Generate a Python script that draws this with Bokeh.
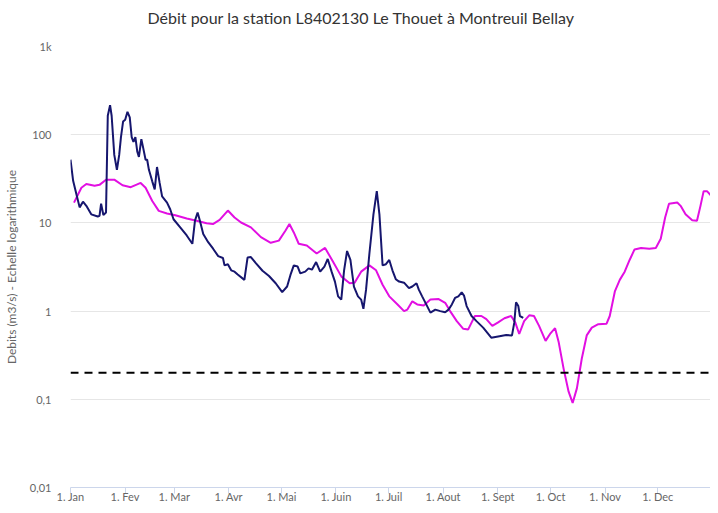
from bokeh.plotting import figure
from bokeh.models import FixedTicker, CustomJSTickFormatter, Span
from bokeh.embed import file_html
from bokeh.resources import INLINE

# ---------------- data ----------------
title_text = "Débit pour la station L8402130 Le Thouet à Montreuil Bellay"
y_title = "Debits (m3/s) - Echelle logarithmique"

month_starts = [0, 31, 59, 90, 120, 151, 181, 212, 243, 273, 304, 334]
month_labels = ["1. Jan", "1. Fev", "1. Mar", "1. Avr", "1. Mai", "1. Juin",
                "1. Juil", "1. Aout", "1. Sept", "1. Oct", "1. Nov", "1. Dec"]

y_tick_values = [0.01, 0.1, 1, 10, 100, 1000]
y_tick_labels = ["0,01", "0,1", "1", "10", "100", "1k"]

threshold = 0.2

# observed flow (dark blue) : day of year, m3/s
obs_day = [0.0, 1.5, 3.4, 5.2, 7.1, 9.0, 11.8, 15.5, 16.5, 17.4, 18.7, 20.2, 21.2, 22.5,
           23.4, 24.9, 26.4, 27.7, 28.7, 29.9, 31.1, 32.4, 33.7, 34.8, 35.8, 36.9, 38.0,
           38.9, 40.3, 41.4, 42.7, 43.6, 44.6, 46.5, 47.9, 49.2, 50.7, 52.1, 54.9, 56.7,
           58.6, 62.4, 66.1, 69.3, 70.8, 72.3, 73.6, 75.5, 78.3, 81.1, 84.0, 86.7, 87.6,
           89.5, 91.4, 93.3, 95.1, 98.9, 100.7, 102.6, 105.4, 109.2, 112.9, 116.7, 120.4,
           123.2, 125.1, 127.0, 129.2, 130.7, 133.5, 135.4, 137.3, 139.7, 142.0, 144.4,
           146.3, 148.5, 150.4, 152.2, 154.0, 155.6, 157.3, 159.2, 161.2, 163.5, 165.3,
           166.6, 168.1, 170.0, 172.3, 174.2, 175.7, 177.5, 179.4, 181.3, 183.1, 185.0,
           186.9, 189.7, 192.5, 194.4, 196.8, 198.1, 200.0, 201.9, 204.7, 207.5, 210.3,
           213.1, 215.0, 216.9, 218.7, 220.6, 222.5, 223.8, 225.3, 228.1, 230.9, 234.7,
           239.3, 244.0, 247.8, 251.1, 252.4, 253.4, 254.7, 255.6, 257.5]
obs_val = [52, 30, 21, 15, 17.4, 15.6, 12.5, 11.8, 12, 16.5, 12.3, 13.1, 164, 216,
           164, 59, 40, 59, 94, 141, 148, 182, 157, 94, 83, 94, 64,
           56, 89, 70, 52, 52, 40, 29.6, 24, 43, 28.4, 20, 17, 14.3,
           11, 8.9, 7.2, 5.8, 10.6, 13.1, 10.6, 7.5, 6.05, 5.1, 4.2, 4.0, 3.3,
           3.4, 2.9, 2.8, 2.6, 2.26, 4.05, 4.1, 3.5, 2.87, 2.5, 2.07, 1.64,
           1.9, 2.57, 3.3, 3.2, 2.68, 2.8, 3.05, 2.95, 3.6, 2.8, 3.2,
           3.9, 2.8, 2.16, 1.47, 1.35, 2.9, 4.8, 3.8, 1.9, 1.47, 1.35,
           1.06, 1.75, 4.5, 12.5, 22.9, 12.5, 3.3, 3.4, 3.8, 2.9, 2.3,
           2.16, 2.1, 1.82, 1.9, 2.07, 1.75, 1.47, 1.24, 0.96, 1.04, 1.0,
           0.97, 1.04, 1.19, 1.41, 1.47, 1.63, 1.5, 1.14, 0.88, 0.77, 0.65,
           0.50, 0.52, 0.535, 0.53, 0.74, 1.26, 1.14, 0.88, 0.84]

# reference flow (magenta) : day of year, m3/s
ref_day = [2.0, 6.2, 9.0, 13.7, 16.5, 20.2, 24.9, 29.6, 34.3, 39.9, 42.7, 46.5, 50.2,
           54.9, 59.6, 66.1, 71.7, 77.4, 81.0, 84.8, 89.5, 93.3, 97.0, 102.6, 108.3,
           113.9, 118.5, 122.3, 124.5, 127.0, 129.8, 134.4, 140.0, 144.8, 149.4, 154.1,
           158.8, 161.6, 165.3, 170.0, 173.8, 177.5, 181.3, 186.0, 189.7, 191.6, 194.4,
           197.2, 200.9, 204.7, 209.4, 213.1, 215.9, 219.7, 223.4, 226.2, 228.1, 230.0,
           233.7, 236.5, 239.9, 243.0, 246.8, 250.6, 253.0, 255.2, 258.0, 260.9, 263.6,
           266.5, 270.2, 273.0, 275.6, 277.6, 280.5, 283.3, 285.6, 288.0, 290.8, 293.6,
           296.5, 300.2, 304.9, 306.7, 309.6, 312.4, 315.2, 318.0, 320.8, 324.5, 329.2,
           332.9, 335.7, 338.2, 340.4, 345.1, 347.0, 349.8, 353.6, 356.3, 358.3, 360.1,
           362.0, 364.6]
ref_val = [17, 25, 27.6, 26.4, 27, 30.9, 30.9, 26.7, 25.4, 28.4, 25, 17.7, 13.7,
           12.8, 12.2, 11.2, 10.6, 9.9, 9.7, 10.8, 13.8, 11.5, 10.1, 8.9, 6.9,
           5.95, 6.3, 8.2, 9.7, 7.8, 5.8, 5.55, 4.5, 5.2, 3.6, 2.46,
           2.07, 2.1, 2.8, 3.3, 2.9, 1.99, 1.47, 1.19, 1.0, 1.04, 1.29,
           1.19, 1.16, 1.35, 1.37, 1.24, 1.0, 0.77, 0.63, 0.62, 0.74, 0.88,
           0.88, 0.81, 0.68, 0.74, 0.83, 0.88, 0.74, 0.55, 0.77, 0.895, 0.88,
           0.68, 0.46, 0.56, 0.64, 0.45, 0.22, 0.122, 0.091, 0.133, 0.29, 0.53,
           0.65, 0.71, 0.72, 0.88, 1.67, 2.26, 2.8, 3.8, 5.0, 5.2, 5.1,
           5.2, 6.6, 11.5, 16.5, 17, 15.6, 12.5, 10.7, 10.6, 15.6, 22.9,
           22.9, 20.1]

# ---------------- figure ----------------
FONT = "Lato"

p = figure(width=710, height=505, y_axis_type="log",
           x_range=(0, 364), y_range=(0.01, 1000),
           output_backend="svg", toolbar_location=None, title=title_text)
p.min_border_left = 61
p.min_border_right = 0
p.min_border_top = 46
p.min_border_bottom = 0
p.outline_line_color = None
p.background_fill_color = "white"
p.border_fill_color = "white"

p.title.align = "left"
p.title.offset = 77
p.title.padding = (0, 0, 0, 15)
p.title.text_font = FONT
p.title.text_font_size = "16px"
p.title.text_font_style = "normal"
p.title.text_color = "#333333"

# x axis
p.xaxis.ticker = FixedTicker(ticks=month_starts)
p.xaxis.major_label_overrides = {d: l for d, l in zip(month_starts, month_labels)}
p.xaxis.axis_line_color = "#ccd6eb"
p.xaxis.major_tick_line_color = "#ccd6eb"
p.xaxis.major_tick_in = 0
p.xaxis.major_tick_out = 6
p.xaxis.minor_tick_line_color = None
p.xaxis.major_label_standoff = -4
p.xaxis.axis_label_standoff = 0
p.xaxis.major_label_text_font = FONT
p.xaxis.major_label_text_font_size = "11px"
p.xaxis.major_label_text_color = "#666666"
p.xgrid.grid_line_color = None

# y axis
p.yaxis.ticker = FixedTicker(ticks=y_tick_values)
p.yaxis.formatter = CustomJSTickFormatter(
    args=dict(vals=y_tick_values, labs=y_tick_labels),
    code="""
    for (let i = 0; i < vals.length; i++) {
        if (Math.abs(Math.log10(vals[i]) - Math.log10(tick)) < 1e-6) return labs[i];
    }
    return '';
    """)
p.yaxis.axis_line_color = None
p.yaxis.major_tick_line_color = None
p.yaxis.minor_tick_line_color = None
p.yaxis.major_label_standoff = 13
p.yaxis.major_label_text_font = FONT
p.yaxis.major_label_text_font_size = "11px"
p.yaxis.major_label_text_color = "#666666"
p.yaxis.axis_label = y_title
p.yaxis.axis_label_text_font = FONT
p.yaxis.axis_label_text_font_size = "12px"
p.yaxis.axis_label_text_font_style = "normal"
p.yaxis.axis_label_text_color = "#666666"
p.yaxis.axis_label_standoff = 8
p.ygrid.ticker = FixedTicker(ticks=y_tick_values)
p.ygrid.grid_line_color = "#e6e6e6"

# series
p.line(ref_day, ref_val, line_color="#e20fe2", line_width=2)
p.line(obs_day, obs_val, line_color="#16166e", line_width=2)

# threshold line
p.add_layout(Span(location=threshold, dimension="width", line_color="black",
                  line_width=2, line_dash="8 6"))

open("out.html", "w").write(file_html(p, INLINE))
